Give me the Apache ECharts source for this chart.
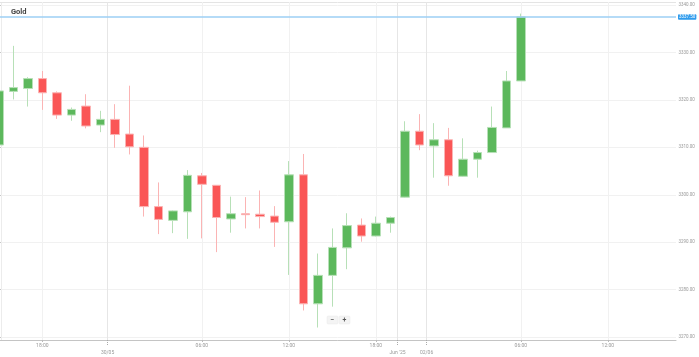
<!DOCTYPE html>
<html>
<head>
<meta charset="utf-8">
<script src="https://cdn.jsdelivr.net/npm/echarts@6/dist/echarts.min.js"></script>
<style>html,body{margin:0;padding:0;background:#fff;}#c{width:699px;height:357px;}</style>
</head>
<body>
<div id="c"></div>
<script>
// Candle values (hourly candles, index = slot on the x axis)
var openVals  = [3310.5, 3321.8, 3322.4, 3324.5, 3321.5, 3316.8, 3318.7, 3314.7, 3315.9, 3312.8, 3310.0, 3297.5, 3294.6, 3296.4, 3304.0, 3302.0, 3294.9, 3296.0, 3295.9, 3295.5, 3294.3, 3304.2, 3277.0, 3283.0, 3288.8, 3293.6, 3291.3, 3294.0, 3299.5, 3313.4, 3310.3, 3311.6, 3303.9, 3307.5, 3308.9, 3314.1, 3324.0];
var closeVals = [3321.9, 3322.6, 3324.5, 3321.5, 3316.8, 3318.0, 3314.5, 3315.9, 3312.7, 3310.1, 3297.5, 3294.8, 3296.6, 3304.1, 3302.2, 3295.2, 3296.0, 3295.8, 3295.4, 3294.2, 3304.2, 3277.0, 3283.0, 3288.9, 3293.5, 3291.3, 3294.0, 3295.2, 3313.4, 3310.5, 3311.6, 3304.0, 3307.5, 3308.9, 3314.2, 3324.0, 3337.5];
var lowVals   = [3310.3, 3320.1, 3318.6, 3317.9, 3316.0, 3315.6, 3314.0, 3313.2, 3309.9, 3308.5, 3295.4, 3291.7, 3291.9, 3290.7, 3290.8, 3287.9, 3292.0, 3292.9, 3292.9, 3289.0, 3283.1, 3275.6, 3272.0, 3276.4, 3284.3, 3290.1, 3291.2, 3292.0, 3299.4, 3309.4, 3303.6, 3301.9, 3303.8, 3303.6, 3308.9, 3314.1, 3324.0];
var highVals  = [3322.1, 3331.4, 3324.8, 3326.1, 3321.8, 3318.4, 3321.2, 3317.7, 3319.1, 3323.0, 3312.5, 3302.6, 3296.7, 3305.2, 3304.6, 3302.0, 3299.6, 3299.5, 3300.9, 3297.6, 3307.1, 3308.6, 3287.6, 3292.9, 3296.1, 3295.0, 3295.4, 3295.4, 3315.5, 3317.0, 3315.1, 3314.1, 3311.9, 3309.3, 3318.6, 3326.1, 3338.2];

// Time tick labels (positions in candle slots)
var hourTickPos    = [3, 14, 20, 26, 36, 42];
var hourTickLabels = ['18:00', '06:00', '12:00', '18:00', '06:00', '12:00'];
var dayTickPos     = [7.5, 27.5, 29.5];
var dayTickLabels  = ['30/05', "Jun '25", '02/06'];

var title = 'Gold';
var lastPrice = closeVals[closeVals.length - 1];

var candleData = openVals.map(function (o, i) {
  return [i, o, closeVals[i], lowVals[i], highVals[i]];
});

var chart = echarts.init(document.getElementById('c'), null, {renderer: 'canvas'});
var xMin = -0.5, xMax = 46.7;
var font = 'Roboto, "Liberation Sans", sans-serif';

var ySplitColors = [];
for (var k = 0; k < 9; k++) ySplitColors.push('#f1f1f1');
ySplitColors.push('#e4e4e4');

chart.setOption({
  animation: false,
  title: {
    text: title, left: 11, top: 8, padding: 0,
    textStyle: {fontSize: 7.5, fontWeight: 'bold', color: '#444', fontFamily: font}
  },
  grid: {left: -8.45, right: 23, top: 2, bottom: 17, outerBoundsMode: 'none', containLabel: false},
  xAxis: [{
    type: 'value', min: xMin, max: xMax, position: 'bottom',
    axisLine: {show: true, lineStyle: {color: '#c4c4c4', width: 1}},
    axisTick: {show: true, length: 2, customValues: hourTickPos, lineStyle: {color: '#bbb'}},
    axisLabel: {
      show: true, customValues: hourTickPos, margin: 3.5, fontSize: 5, color: '#999', fontFamily: font,
      formatter: function (v) { var i = hourTickPos.indexOf(v); return i >= 0 ? hourTickLabels[i] : ''; }
    },
    splitLine: {show: true, lineStyle: {color: '#f1f1f1', width: 1}}
  }, {
    type: 'value', min: xMin, max: xMax, position: 'bottom',
    axisLine: {show: false},
    axisTick: {show: true, length: 6, customValues: dayTickPos, lineStyle: {color: '#aaa', type: [1, 1]}},
    axisLabel: {
      show: true, customValues: dayTickPos, margin: 10, fontSize: 5, color: '#999', fontFamily: font,
      formatter: function (v) { var i = dayTickPos.indexOf(v); return i >= 0 ? dayTickLabels[i] : ''; }
    },
    splitLine: {show: true, lineStyle: {color: '#e6e6e6', width: 1}}
  }],
  yAxis: {
    type: 'value', position: 'right', min: 3269.37, max: 3340.65, splitNumber: 7, scale: true,
    axisLine: {show: true, lineStyle: {color: '#c4c4c4', width: 1}},
    axisTick: {show: true, length: 2, lineStyle: {color: '#bbb'}},
    axisLabel: {
      show: true, margin: 2.5, fontSize: 4.5, color: '#999', fontFamily: font,
      showMinLabel: false, showMaxLabel: false,
      formatter: function (v) { return v.toFixed(2); }
    },
    splitLine: {show: true, lineStyle: {color: ySplitColors, width: 1}}
  },
  series: [{
    type: 'candlestick',
    xAxisIndex: 0, yAxisIndex: 0,
    barWidth: 9,
    data: candleData,
    itemStyle: {
      color: '#5cb85c', color0: '#fa5656',
      borderColor: '#b7e0b7', borderColor0: '#fbb4b4', borderWidth: 1
    },
    markLine: {
      silent: true, symbol: ['none', 'none'], animation: false,
      lineStyle: {color: '#9ccff5', width: 1.5, type: 'solid', opacity: 1},
      label: {
        show: true, position: 'end', distance: 2,
        formatter: function () { return lastPrice.toFixed(2); },
        color: '#fff', backgroundColor: '#2f9ced', fontSize: 4.5, padding: [0.5, 1, 0, 1],
        borderRadius: 1, fontFamily: font
      },
      emphasis: {disabled: true},
      data: [{yAxis: lastPrice}]
    }
  }],
  graphic: [
    {type: 'line', shape: {x1: 1.5, y1: 2, x2: 1.5, y2: 340}, style: {stroke: '#ececec', lineWidth: 1}, silent: true},
    {type: 'rect', shape: {x: 327, y: 316, width: 11, height: 8, r: 1}, style: {fill: '#f4f4f4', stroke: '#e8e8e8', lineWidth: 0.5}, silent: true},
    {type: 'rect', shape: {x: 339, y: 316, width: 11, height: 8, r: 1}, style: {fill: '#f4f4f4', stroke: '#e8e8e8', lineWidth: 0.5}, silent: true},
    {type: 'text', x: 332.5, y: 320, style: {text: '\u2212', fontSize: 7, fontWeight: 'bold', fill: '#555', align: 'center', verticalAlign: 'middle', fontFamily: font}, silent: true},
    {type: 'text', x: 344.5, y: 320, style: {text: '+', fontSize: 7, fontWeight: 'bold', fill: '#555', align: 'center', verticalAlign: 'middle', fontFamily: font}, silent: true}
  ]
});
</script>
</body>
</html>
